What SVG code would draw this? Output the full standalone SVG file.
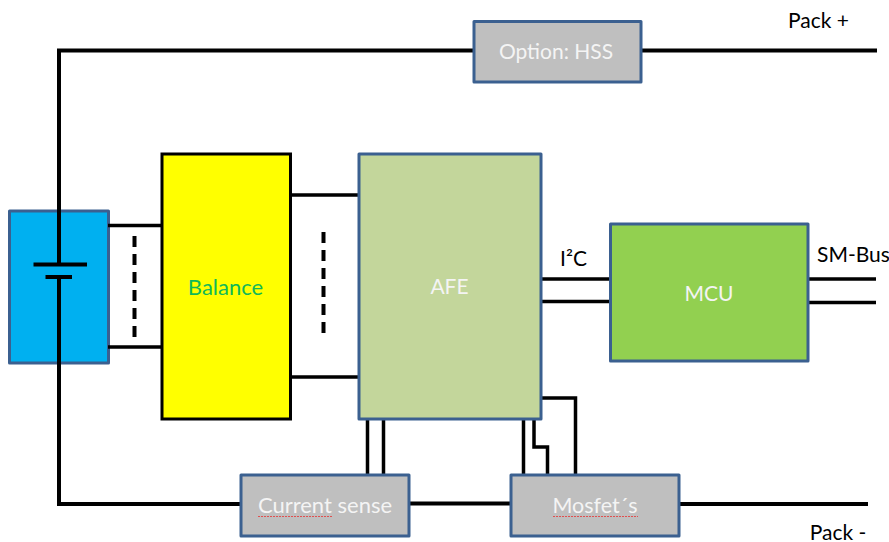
<svg xmlns="http://www.w3.org/2000/svg" width="889" height="542" viewBox="0 0 889 542">
<style>
.b{stroke:#3b6090;stroke-width:3;stroke-linejoin:round}
.k{stroke:#000;stroke-width:3.500;fill:none}
.w{stroke:#000;stroke-width:4;fill:none}
text{font-family:Lato,"Open Sans",sans-serif;font-size:21px;text-anchor:middle}
.l{fill:#f4f4f4}
.d{fill:#000}
.sq{stroke:#e05050;stroke-width:1;fill:none;stroke-dasharray:2 1}
</style>
<rect width="889" height="542" fill="#fff"/>
<g id="battery"><rect class="b" x="9.500" y="211" width="99" height="152" fill="#00b0f0"/></g>
<g id="connectors">
<path class="w" d="M59 264V50.500H474M641 50.500H877M33.500 264.500H87M45.500 277H72M59 277V504H241M409 503.500H511M679 504H868"/>
<path class="k" d="M108 225.500H162M108 347H162M290 195H359M290 377H359"/>
<path d="M134.500 236V337" stroke="#000" stroke-width="4" stroke-dasharray="11 7" fill="none"/>
<path d="M323.500 232V334" stroke="#000" stroke-width="4" stroke-dasharray="11 7" fill="none"/>
<path class="k" d="M541 279H610M541 301.500H610M808 279H876M808 302.500H876"/>
<path class="k" d="M367.500 419V475M383.500 419V475M523.500 419V475M534 419V447H547.500V475M541 398H575.500V475"/>
</g>
<g id="balance"><rect x="162" y="154" width="128.500" height="265" fill="#ff0" stroke="#000" stroke-width="3"/><text x="225.500" y="294.500" fill="#10b858" font-size="22" style="font-size:22px">Balance</text></g>
<g id="afe"><rect class="b" x="359" y="154" width="182" height="265" fill="#c3d69b"/><text class="l" x="449.500" y="294">AFE</text></g>
<g id="mcu"><rect class="b" x="610.500" y="224" width="197.500" height="137" fill="#92d050"/><text class="l" x="709" y="300.500">MCU</text></g>
<g id="hss"><rect class="b" x="474" y="21.500" width="167" height="60.500" fill="#bfbfbf"/><text class="l" x="556" y="58.500">Option: HSS</text></g>
<g id="current-sense"><rect class="b" x="241" y="475" width="168" height="61" fill="#bfbfbf"/><text class="l" x="325" y="513" style="font-size:22px">Current sense</text><path class="sq" d="M258 516.500H333"/></g>
<g id="mosfet"><rect class="b" x="511" y="475" width="168" height="61" fill="#bfbfbf"/><text class="l" x="595" y="513" style="font-size:21.500px">Mosfet´s</text><path class="sq" d="M553 516.500H638"/></g>
<g id="labels">
<text class="d" x="818.500" y="28">Pack +</text>
<text class="d" x="838" y="539.500">Pack -</text>
<text class="d" x="573.500" y="266">I²C</text>
<text class="d" x="853.500" y="262">SM-Bus</text>
</g>
</svg>
